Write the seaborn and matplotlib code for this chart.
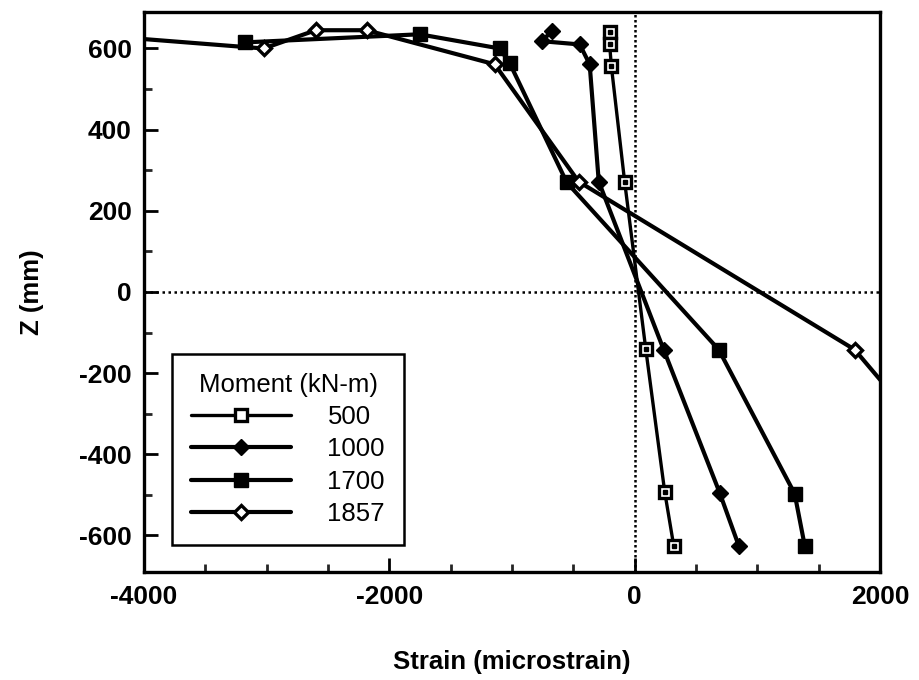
import matplotlib
matplotlib.use("Agg")
import matplotlib.pyplot as plt
from matplotlib.lines import Line2D
from matplotlib.ticker import MultipleLocator
import numpy as np
import pandas as pd
import seaborn as sns

# Strain profiles (microstrain) along the section depth Z (mm) for each moment level
moments = ["500", "1000", "1700", "1857"]

z_500 = [640, 612, 556, 272, -140, -493, -625]
strain_500 = [-205, -205, -190, -82, 90, 245, 318]

z_1000 = [642, 618, 610, 561, 272, -142, -495, -625]
strain_1000 = [-677, -758, -448, -367, -293, 236, 693, 848]

z_1700 = [615, 635, 600, 564, 270, -142, -497, -625]
strain_1700 = [-3179, -1753, -1100, -1019, -554, 685, 1304, 1386]

z_1857 = [647, 600, 645, 645, 561, 272, -142, -495]
strain_1857 = [-5000, -3024, -2600, -2185, -1141, -457, 1793, 2780]

x_ticks = [-4000, -2000, 0, 2000]
y_ticks = [-600, -400, -200, 0, 200, 400, 600]

frames = []
for m, zs, ss in [("500", z_500, strain_500), ("1000", z_1000, strain_1000),
                  ("1700", z_1700, strain_1700), ("1857", z_1857, strain_1857)]:
    frames.append(pd.DataFrame({"Moment": m, "Strain": ss, "Z": zs}))
df = pd.concat(frames, ignore_index=True)

sns.set_theme(style="ticks")
plt.rcParams["font.family"] = ["Liberation Sans", "DejaVu Sans"]
plt.rcParams["axes.unicode_minus"] = False
plt.rcParams["text.color"] = "black"
plt.rcParams["axes.labelcolor"] = "black"

fig = plt.figure(figsize=(9.19, 6.80), dpi=100)
ax = fig.add_axes([0.1567, 0.1588, 0.9576 - 0.1567, 0.9824 - 0.1588])

styles = {
    "500":  dict(marker="s", ms=9, mfc="white", mec="black", mew=2.4, lw=2.4),
    "1000": dict(marker="D", ms=8.5, mfc="black", mec="black", mew=1.0, lw=3.0),
    "1700": dict(marker="s", ms=10.5, mfc="black", mec="black", mew=1.0, lw=3.0),
    "1857": dict(marker="D", ms=7, mfc="white", mec="black", mew=2.4, lw=3.0),
}

handles = []
for m in moments:
    st = styles[m]
    sub = df[df["Moment"] == m]
    sns.lineplot(data=sub, x="Strain", y="Z", sort=False, estimator=None,
                 color="black", linewidth=st["lw"], marker=st["marker"],
                 markersize=st["ms"], markerfacecolor=st["mfc"],
                 markeredgecolor=st["mec"], markeredgewidth=st["mew"],
                 ax=ax, legend=False, zorder=3)
    h = Line2D([], [], color="black", lw=st["lw"], marker=st["marker"],
               ms=st["ms"], mfc=st["mfc"], mec=st["mec"], mew=st["mew"])
    handles.append(h)

# small centre dot inside the open squares of the 500 kN-m profile
sub = df[df["Moment"] == "500"]
ax.plot(sub["Strain"], sub["Z"], ls="none", marker="s", ms=2.4,
        color="black", zorder=4)

# reference axes through the origin
ax.axhline(0, color="black", lw=1.8, ls=(0, (1, 1.4)), zorder=1)
ax.axvline(0, color="black", lw=1.8, ls=(0, (1, 1.0)), zorder=1)

ax.set_xlim(-4000, 2000)
ax.set_ylim(-690, 690)
ax.set_xticks(x_ticks)
ax.set_yticks(y_ticks)
ax.xaxis.set_minor_locator(MultipleLocator(500))
ax.yaxis.set_minor_locator(MultipleLocator(100))
ax.tick_params(axis="both", which="major", direction="in", length=10, width=2,
               labelsize=19, colors="black", pad=9)
ax.tick_params(axis="both", which="minor", direction="in", length=6, width=2)
for lab in ax.get_xticklabels() + ax.get_yticklabels():
    lab.set_fontweight("bold")

for sp in ax.spines.values():
    sp.set_linewidth(2.4)
    sp.set_color("black")

ax.set_xlabel("Strain (microstrain)", fontsize=18.5, fontweight="bold",
              color="black", labelpad=30)
ax.set_ylabel("Z (mm)", fontsize=18.5, fontweight="bold", color="black",
              labelpad=25)

leg = ax.legend(handles, moments, title="Moment (kN-m)", loc="lower left",
                bbox_to_anchor=(0.038, 0.048), borderaxespad=0,
                fontsize=18.5, title_fontsize=18.5,
                handlelength=3.9, handletextpad=1.4, labelspacing=0.32,
                borderpad=0.75, frameon=True, fancybox=False, framealpha=1,
                edgecolor="black")
leg.get_frame().set_linewidth(1.8)
for t in leg.get_texts():
    t.set_color("black")
leg.get_title().set_color("black")

fig.savefig("out.png", dpi=100, facecolor="white")
